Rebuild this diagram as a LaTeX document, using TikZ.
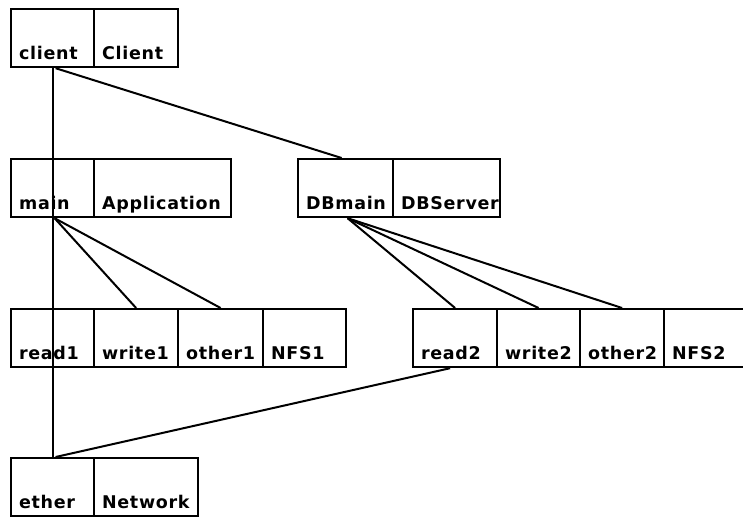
\documentclass[tikz,border=0pt]{standalone}
\usepackage{fontspec}
\setmainfont{DejaVu Sans}
\newfontfamily\cellfont{DejaVu Sans Bold}[LetterSpace=4]
\begin{document}
\begin{tikzpicture}[x=1pt,y=-1pt,
  cell/.style={draw, line width=2.2pt, anchor=north west, inner xsep=8pt,
    inner ysep=0pt, text height=50pt, text depth=8pt, align=left,
    font=\cellfont\fontsize{17.5}{17.5}\selectfont, text width=#1},
  link/.style={line width=2pt}]
\useasboundingbox (0,0) rectangle (743,516);
\clip (0,0) rectangle (743,516);

% client
\node[cell=67pt] (client) at (10,8) {client};
\node[cell=68pt] (clientT) at (93,8) {Client};
% main / DBmain
\node[cell=67pt] (main) at (10,158) {main};
\node[cell=121pt] (mainT) at (93,158) {Application};
\node[cell=79pt] (dbmain) at (297,158) {DBmain};
\node[cell=91pt] (dbmainT) at (392,158) {DBServer};
% first file row
\node[cell=67pt] (read1) at (10,308) {read1};
\node[cell=68pt] (write1) at (93,308) {write1};
\node[cell=69pt] (other1) at (177,308) {other1};
\node[cell=67pt] (nfs1) at (262,308) {NFS1};
% second file row
\node[cell=68pt] (read2) at (412,308) {read2};
\node[cell=67pt] (write2) at (496,308) {write2};
\node[cell=68pt] (other2) at (579,308) {other2};
\node[cell=70pt] (nfs2) at (663,308) {NFS2};
% network
\node[cell=67pt] (ether) at (10,457) {ether};
\node[cell=88pt] (etherT) at (93,457) {Network};

% connectors
\draw[link] (client.south) -- (client.south |- ether.north);
\draw[link] ([xshift=3pt]client.south) -- ([xshift=-4pt]dbmain.north);
\draw[link] ([xshift=2pt]main.south) -- (write1.north);
\draw[link] ([xshift=2pt]main.south) -- (other1.north);
\draw[link] ([xshift=2pt]dbmain.south) -- (read2.north);
\draw[link] ([xshift=2pt]dbmain.south) -- (write2.north);
\draw[link] ([xshift=2pt]dbmain.south) -- (other2.north);
\draw[link] ([xshift=-5pt]read2.south) -- ([xshift=3pt]ether.north);
\end{tikzpicture}
\end{document}
